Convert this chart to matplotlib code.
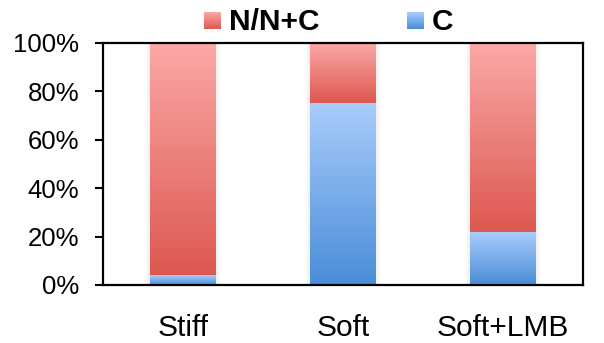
import numpy as np
import matplotlib
matplotlib.use("Agg")
import matplotlib.pyplot as plt
from matplotlib.colors import LinearSegmentedColormap
from matplotlib.patches import Rectangle

# Data: share of cells (%) by localisation
categories = ["Stiff", "Soft", "Soft+LMB"]
c_share = [4.0, 75.2, 21.8]          # C (blue, bottom)
nnc_share = [100 - v for v in c_share]  # N/N+C (red, top)
series_labels = ["N/N+C", "C"]
yticks = [0, 20, 40, 60, 80, 100]

plt.rcParams["font.family"] = ["Liberation Sans", "DejaVu Sans"]

red_cmap = LinearSegmentedColormap.from_list("red_grad", ["#DD5850", "#FBA9A7"])
blue_cmap = LinearSegmentedColormap.from_list("blue_grad", ["#4A8DD8", "#A9CCFB"])

fig = plt.figure(figsize=(6.04, 3.43), dpi=100)
ax = fig.add_axes([103 / 604, 58 / 343, 480 / 604, 242 / 343])

x = np.arange(len(categories))
width = 0.41


def gradient_fill(patch, cmap, zorder):
    """Replace a bar's flat fill with a vertical gradient clipped to it."""
    bx, by = patch.get_x(), patch.get_y()
    bw, bh = patch.get_width(), patch.get_height()
    grad = np.linspace(0, 1, 256).reshape(-1, 1)
    im = ax.imshow(grad, cmap=cmap, origin="lower", aspect="auto",
                   extent=(bx, bx + bw, by, by + bh), zorder=zorder,
                   interpolation="bicubic")
    im.set_clip_path(patch)
    patch.set_facecolor("none")
    patch.set_edgecolor("none")


def shadow(bx, by, bw, bh):
    # faint halo behind each full bar
    for i, a in enumerate([0.025, 0.02, 0.015]):
        d = 0.01 * (i + 1)
        ax.add_patch(Rectangle((bx - d, by), bw + 2 * d, bh + d * 20,
                               facecolor="black", alpha=a, edgecolor="none",
                               zorder=1, clip_on=True))


c_bars = ax.bar(x, c_share, width, zorder=2)
r_bars = ax.bar(x, nnc_share, width, bottom=c_share, zorder=2)

for xi in x:
    shadow(xi - width / 2, 0, width, 100)

for p in c_bars:
    gradient_fill(p, blue_cmap, 3)
for p in r_bars:
    gradient_fill(p, red_cmap, 3)

ax.set_xlim(-0.5, len(categories) - 0.5)
ax.set_ylim(0, 100)
ax.set_yticks(yticks)
ax.set_yticklabels([f"{v}%" for v in yticks], fontsize=18.5)
ax.set_xticks(x)
ax.set_xticklabels(categories, fontsize=21.5)
ax.tick_params(axis="x", length=0, pad=21)
ax.tick_params(axis="y", direction="out", length=6, width=1.5, pad=11)
for s in ax.spines.values():
    s.set_linewidth(1.6)
    s.set_color("black")
    s.set_zorder(5)

# Legend above the plot: gradient swatches with bold labels
W, H = 604, 343
legend_items = [(series_labels[0], red_cmap, 204), (series_labels[1], blue_cmap, 407)]
for label, cmap, px in legend_items:
    sw = fig.add_axes([px / W, (H - 29) / H, 17 / W, 17 / H])
    sw.imshow(np.linspace(0, 1, 64).reshape(-1, 1), cmap=cmap, origin="lower",
              aspect="auto", extent=(0, 1, 0, 1))
    sw.set_axis_off()
    fig.text((px + 25) / W, (H - 22) / H, label, fontsize=21.5, fontweight="bold",
             va="center", ha="left")

fig.savefig("out.png", dpi=100)
